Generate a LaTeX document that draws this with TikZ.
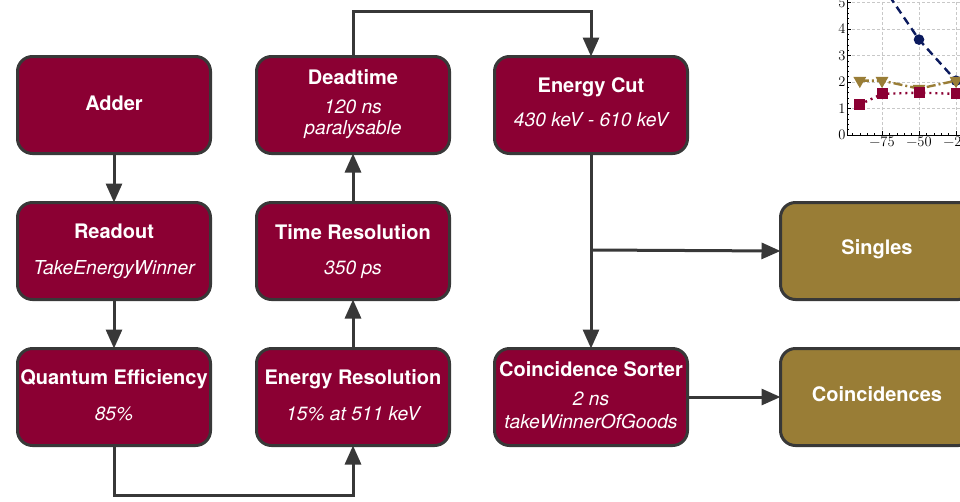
\documentclass[tikz,border=0pt]{standalone}
\usepackage[no-math]{fontspec}
\setmainfont{TeX Gyre Heros}
\usetikzlibrary{arrows.meta,plotmarks}
\definecolor{crim}{HTML}{8B0033}
\definecolor{gold}{HTML}{997D36}
\definecolor{edge}{HTML}{383838}
\definecolor{navy}{HTML}{0B1A5E}
\definecolor{gridc}{HTML}{C8C8C8}
\tikzset{
 box/.style={draw=edge, line width=3pt, rounded corners=15pt, minimum width=193pt, minimum height=97pt, inner sep=0pt, outer sep=0pt},
 procbox/.style={box, fill=crim},
 outbox/.style={box, fill=gold},
 ttltxt/.style={text=white, anchor=base, inner sep=0pt, font=\fontsize{20}{23}\selectfont\bfseries},
 subtxt/.style={text=white, anchor=base, inner sep=0pt, font=\fontsize{19.2}{22}\selectfont\itshape},
 arr/.style={draw=edge, line width=3pt, -{Triangle[length=19pt,width=16pt]}},
 numtxt/.style={inner sep=1.5pt, font=\fontfamily{lmr}\fontsize{14.5}{17}\selectfont},
}
\begin{document}
\begin{tikzpicture}[x=1pt,y=-1pt]
\clip (0,0) rectangle (960,501);
\fill[white] (0,0) rectangle (960,501);

% ---- plot fragment ----
\begin{scope}[shift={(993,135)}, x=1.48pt, y=26.5pt]
 \foreach \u in {-75,-50,-25}
   \draw[gridc, line width=0.9pt, dash pattern=on 3pt off 2pt] (\u,0) -- (\u,6);
 \foreach \v in {1,2,3,4,5}
   \draw[gridc, line width=0.9pt, dash pattern=on 3pt off 2pt] (-98.6,\v) -- (60,\v);
 \draw[black, line width=1pt] (-98.6,6) -- (-98.6,0) -- (60,0);
 \foreach \v in {0,1,2,3,4,5}{
   \draw[black, line width=0.8pt] (-98.6,\v) -- ++(4pt,0);
   \node[numtxt, anchor=east] (yl\v) at (-98.6,\v) {\v};
 }
 \foreach \v in {0.2,0.4,...,5.8}
   \draw[black, line width=0.6pt] (-98.6,\v) -- ++(2.2pt,0);
 \foreach \u in {-95,-90,...,10}
   \draw[black, line width=0.6pt] (\u,0) -- ++(0,2.2pt);
 \foreach \u/\w in {-75/75,-50/50,-25/25}{
   \draw[black, line width=0.8pt] (\u,0) -- ++(0,4pt);
   \node[numtxt, anchor=north] (xl\w) at (\u,0) {−\w};
 }
 \draw[navy, line width=2.4pt, dash pattern=on 8pt off 5pt, mark=*, mark size=4pt, mark options={solid}]
   plot coordinates {(-75,5.65) (-50,3.6) (-25,2.05) (0,1.1)};
 \draw[gold, line width=2.4pt, dash pattern=on 9pt off 3pt on 2pt off 3pt, mark=triangle*, mark size=5pt, mark options={solid, rotate=180}]
   plot coordinates {(-90,2.05) (-75,2.05) (-50,1.75) (-25,2.05) (0,2.1)};
 \draw[crim, line width=2.4pt, dash pattern=on 2pt off 4pt, mark=square*, mark size=4.3pt, mark options={solid}]
   plot coordinates {(-90,1.15) (-75,1.55) (-50,1.6) (-25,1.55) (0,1.55)};
\end{scope}

% ---- boxes ----
\node[procbox] (adder) at (114,105) {};
\node[procbox] (readout) at (114,251) {};
\node[procbox] (qe) at (114,397) {};
\node[procbox] (dead) at (353,105) {};
\node[procbox] (tres) at (353,251) {};
\node[procbox] (eres) at (353,397) {};
\node[procbox] (ecut) at (591,105) {};
\node[procbox] (csort) at (591,397) {};
\node[outbox] (singles) at (877,251) {};
\node[outbox] (coinc) at (877,397) {};

% ---- texts ----
\node[ttltxt] (t-adder) at (114,110) {Adder};
\node[ttltxt] (t-readout) at (114,238) {Readout};
\node[subtxt] (s-readout) at (114,274) {TakeEnergyWinner};
\node[ttltxt] (t-qe) at (114,384) {Quantum Efficiency};
\node[subtxt] (s-qe) at (114,420) {85\%};
\node[ttltxt] (t-dead) at (353,84) {Deadtime};
\node[subtxt] (s-dead1) at (353,113) {120 ns};
\node[subtxt] (s-dead2) at (353,134) {paralysable};
\node[ttltxt] (t-tres) at (353,239) {Time Resolution};
\node[subtxt] (s-tres) at (353,274) {350 ps};
\node[ttltxt] (t-eres) at (353,384) {Energy Resolution};
\node[subtxt] (s-eres) at (353,420) {15\% at 511 keV};
\node[ttltxt] (t-ecut) at (591,92) {Energy Cut};
\node[subtxt] (s-ecut) at (591,126) {430 keV - 610 keV};
\node[ttltxt] (t-csort) at (591,376) {Coincidence Sorter};
\node[subtxt] (s-csort1) at (591,405) {2 ns};
\node[subtxt] (s-csort2) at (591,428) {takeWinnerOfGoods};
\node[ttltxt] (t-singles) at (877,254) {Singles};
\node[ttltxt] (t-coinc) at (877,401) {Coincidences};

% ---- connectors ----
\draw[arr] (adder.south) -- (readout.north);
\draw[arr] (readout.south) -- (qe.north);
\draw[arr] (qe.south) -- ++(0,50) -| (eres.south);
\draw[arr] (eres.north) -- (tres.south);
\draw[arr] (tres.north) -- (dead.south);
\draw[arr] (dead.north) -- ++(0,-45) -| (ecut.north);
\draw[arr] (ecut.south) -- (csort.north);
\coordinate (branch) at (591,250);
\draw[arr] (branch) -- (singles.west);
\draw[arr] (csort.east) -- (coinc.west);
\end{tikzpicture}
\end{document}
